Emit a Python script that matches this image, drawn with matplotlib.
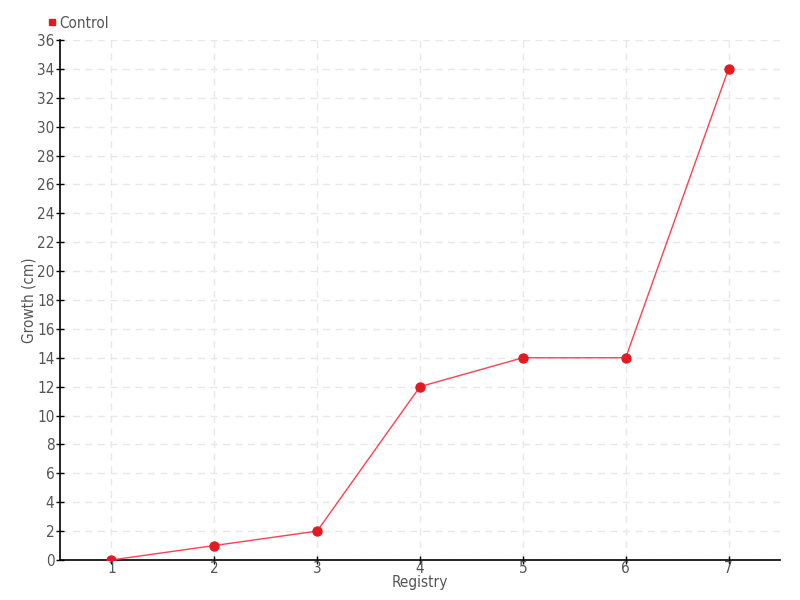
import matplotlib
matplotlib.use('Agg')
import matplotlib.pyplot as plt
from matplotlib.lines import Line2D

plt.rcParams['font.family'] = ['DejaVu Sans']
plt.rcParams['font.stretch'] = 'condensed'

registry = [1, 2, 3, 4, 5, 6, 7]
growth = [0, 1, 2, 12, 14, 14, 34]
y_ticks = list(range(0, 37, 2))

text_color = '#555555'

fig = plt.figure(figsize=(8, 6), dpi=100)
ax = fig.add_axes([0.075, 0.0667, 0.9, 0.8667])

ax.plot(registry, growth, color='#ff4050', linewidth=1, zorder=3)
ax.scatter(registry, growth, color='#e41a22', s=42, zorder=4)

ax.set_xlim(0.5, 7.5)
ax.set_ylim(0, 36)
ax.set_xticks(registry)
ax.set_yticks(y_ticks)

ax.grid(True, color='#e8e8e8', linestyle=(0, (5, 4)), linewidth=1)
ax.set_axisbelow(True)

for side in ['top', 'right']:
    ax.spines[side].set_visible(False)
for side in ['left', 'bottom']:
    ax.spines[side].set_color('black')
    ax.spines[side].set_linewidth(1.2)

ax.tick_params(axis='both', direction='inout', length=6, width=1,
               colors='black', labelcolor=text_color, labelsize=11)
ax.tick_params(axis='x', pad=-2)
ax.tick_params(axis='y', pad=1)

ax.set_xlabel('Registry', color=text_color, fontsize=11, labelpad=-1)
ax.set_ylabel('Growth (cm)', color=text_color, fontsize=11, labelpad=0)

handle = Line2D([], [], marker='s', color='#e41a22', linestyle='none', markersize=4)
fig.legend([handle], ['Control'], loc='upper left', bbox_to_anchor=(0.04, 0.997),
           frameon=False, fontsize=11, labelcolor=text_color,
           handletextpad=0.1, handlelength=0.8)

fig.savefig('out.png', dpi=100)
